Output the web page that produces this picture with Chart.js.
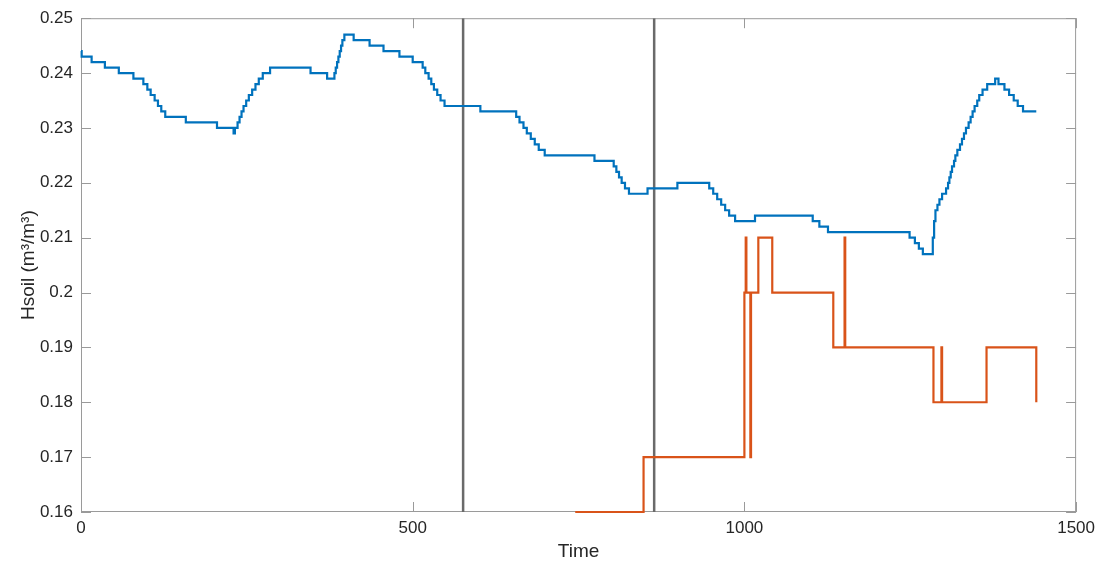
<!DOCTYPE html>
<html>
<head>
<meta charset="utf-8">
<script src="https://cdn.jsdelivr.net/npm/chart.js@4.4.1/dist/chart.umd.min.js"></script>
<style>
    html, body { margin: 0; padding: 0; background: #ffffff; }
    #wrap { width: 1101px; height: 567px; position: relative; }
</style>
</head>
<body>
<div id="wrap"><canvas id="hsoil-chart"></canvas></div>
<script>
// Data (change points, values hold until the next time)
const blueTime = [
    0, 1, 16, 36, 57, 79, 94, 100, 105, 111, 116, 121, 127, 158, 205, 230, 232,
    236, 239, 242, 245, 249, 253, 258, 263, 268, 274, 285, 346, 371, 382, 384,
    386, 388, 390, 392, 394, 397, 411, 435, 456, 480, 500, 515, 519, 524, 528,
    532, 537, 542, 548, 602, 656, 661, 667, 672, 678, 684, 690, 699, 774, 803,
    807, 811, 815, 820, 826, 854, 899, 947, 953, 959, 965, 971, 977, 986, 1016,
    1103, 1113, 1126, 1249, 1257, 1263, 1269, 1284, 1286, 1288, 1291, 1294, 1298,
    1304, 1307, 1309, 1311, 1313, 1316, 1318, 1321, 1325, 1328, 1331, 1334, 1338,
    1341, 1344, 1347, 1351, 1354, 1359, 1366, 1378, 1383, 1392, 1399, 1406, 1412,
    1420, 1440
];
const blueHsoil = [
    0.244, 0.243, 0.242, 0.241, 0.240, 0.239, 0.238, 0.237, 0.236, 0.235, 0.234, 0.233, 0.232, 0.231, 0.230, 0.229, 0.230,
    0.231, 0.232, 0.233, 0.234, 0.235, 0.236, 0.237, 0.238, 0.239, 0.240, 0.241, 0.240, 0.239, 0.240, 0.241,
    0.242, 0.243, 0.244, 0.245, 0.246, 0.247, 0.246, 0.245, 0.244, 0.243, 0.242, 0.241, 0.240, 0.239, 0.238,
    0.237, 0.236, 0.235, 0.234, 0.233, 0.232, 0.231, 0.230, 0.229, 0.228, 0.227, 0.226, 0.225, 0.224, 0.223,
    0.222, 0.221, 0.220, 0.219, 0.218, 0.219, 0.220, 0.219, 0.218, 0.217, 0.216, 0.215, 0.214, 0.213, 0.214,
    0.213, 0.212, 0.211, 0.210, 0.209, 0.208, 0.207, 0.210, 0.213, 0.215, 0.216, 0.217, 0.218,
    0.219, 0.220, 0.221, 0.222, 0.223, 0.224, 0.225, 0.226, 0.227, 0.228, 0.229, 0.230, 0.231,
    0.232, 0.233, 0.234, 0.235, 0.236, 0.237, 0.238, 0.239, 0.238, 0.237, 0.236, 0.235, 0.234,
    0.233, 0.233
];

const orangeTime = [
    745, 848, 1000, 1002, 1003, 1009, 1010, 1021, 1042, 1134, 1151, 1152,
    1285, 1297, 1298, 1365, 1440
];
const orangeHsoil = [
    0.16, 0.17, 0.20, 0.21, 0.20, 0.17, 0.20, 0.21, 0.20, 0.19, 0.21, 0.19,
    0.18, 0.19, 0.18, 0.19, 0.18
];

// Vertical marker lines
const markerTimes = [576, 864];

// Axis ticks
const xTicks = [0, 500, 1000, 1500];
const yTicks = [0.16, 0.17, 0.18, 0.19, 0.2, 0.21, 0.22, 0.23, 0.24, 0.25];

// Colors
const blueColor = '#0072BD';
const orangeColor = '#D95319';
const markerColor = '#6a6a6a';
const axisColor = '#9a9a9a';
const textColor = '#262626';

function toPoints(xs, ys) {
    return xs.map((x, i) => ({ x: x, y: ys[i] }));
}

// Box and inward ticks, MATLAB style
const boxPlugin = {
    id: 'boxPlugin',
    beforeDatasetsDraw(chart) {
        const { ctx, chartArea: a, scales } = chart;
        const len = 10;
        ctx.save();
        ctx.strokeStyle = axisColor;
        ctx.lineWidth = 1;
        ctx.strokeRect(a.left + 0.5, a.top + 0.5, a.right - a.left - 1, a.bottom - a.top - 1);
        ctx.beginPath();
        scales.x.ticks.forEach(t => {
            const px = Math.round(scales.x.getPixelForValue(t.value)) + 0.5;
            ctx.moveTo(px, a.bottom); ctx.lineTo(px, a.bottom - len);
            ctx.moveTo(px, a.top); ctx.lineTo(px, a.top + len);
        });
        scales.y.ticks.forEach(t => {
            const py = Math.round(scales.y.getPixelForValue(t.value)) + 0.5;
            ctx.moveTo(a.left, py); ctx.lineTo(a.left + len, py);
            ctx.moveTo(a.right, py); ctx.lineTo(a.right - len, py);
        });
        ctx.stroke();
        ctx.restore();
    }
};

function initChart() {
    const ctx = document.getElementById('hsoil-chart').getContext('2d');

    const markerSets = markerTimes.map(t => ({
        data: toPoints([t, t], [yTicks[0], yTicks[yTicks.length - 1]]),
        borderColor: markerColor,
        borderWidth: 2.5,
        pointRadius: 0,
        fill: false,
    }));

    new Chart(ctx, {
        type: 'line',
        data: {
            datasets: [{
                data: toPoints(blueTime, blueHsoil),
                borderColor: blueColor,
                borderWidth: 2.2,
                pointRadius: 0,
                stepped: 'before',
                clip: 4,
                fill: false,
            }, {
                data: toPoints(orangeTime, orangeHsoil),
                borderColor: orangeColor,
                borderWidth: 2.2,
                pointRadius: 0,
                stepped: 'before',
                clip: 4,
                fill: false,
            }, ...markerSets]
        },
        options: {
            responsive: false,
            animation: false,
            layout: { padding: { left: 0, right: 24, top: 18, bottom: 0 } },
            plugins: {
                legend: { display: false },
                tooltip: { enabled: false }
            },
            scales: {
                x: {
                    type: 'linear',
                    min: 0,
                    max: 1500,
                    afterFit: s => { s.height = 55; },
                    afterBuildTicks: s => { s.ticks = xTicks.map(v => ({ value: v })); },
                    grid: { display: false, drawTicks: false },
                    border: { display: false },
                    ticks: {
                        color: textColor,
                        padding: 6,
                        maxRotation: 0,
                        callback: v => String(v),
                        font: { family: 'Liberation Sans', size: 17 }
                    },
                    title: {
                        display: true,
                        text: 'Time',
                        color: textColor,
                        padding: { top: 0, bottom: 4 },
                        font: { family: 'Liberation Sans', size: 19 }
                    }
                },
                y: {
                    min: 0.16,
                    max: 0.25,
                    afterFit: s => { s.width = 81; },
                    afterBuildTicks: s => { s.ticks = yTicks.map(v => ({ value: v })); },
                    grid: { display: false, drawTicks: false },
                    border: { display: false },
                    ticks: {
                        color: textColor,
                        padding: 8,
                        callback: v => String(Math.round(v * 100) / 100),
                        font: { family: 'Liberation Sans', size: 17 }
                    },
                    title: {
                        display: true,
                        text: 'Hsoil (m³/m³)',
                        color: textColor,
                        padding: { top: 17, bottom: 0 },
                        font: { family: 'Liberation Sans', size: 19 }
                    }
                }
            }
        },
        plugins: [boxPlugin]
    });
}

const canvas = document.getElementById('hsoil-chart');
canvas.width = 1101;
canvas.height = 567;
initChart();
</script>
</body>
</html>
